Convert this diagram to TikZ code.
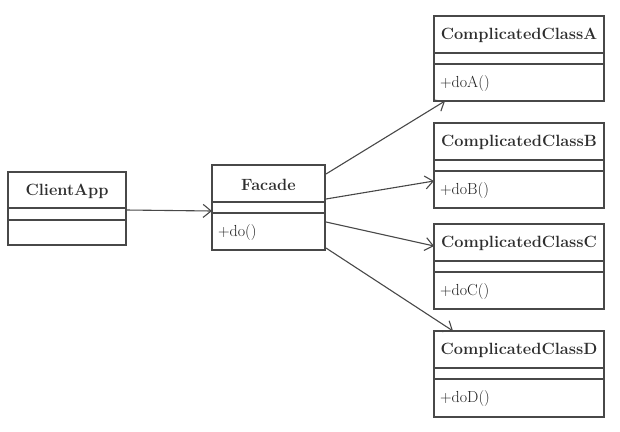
\documentclass[tikz,border=0pt]{standalone}
\usetikzlibrary{arrows.meta,calc}
\definecolor{ln}{HTML}{484848}
\definecolor{tx}{HTML}{2E2E2E}
\definecolor{mtx}{HTML}{1E1E1E}
\tikzset{
 x=1pt, y=-1pt,
 box/.style={draw=ln, line width=1.2pt, inner sep=0pt, outer sep=0pt, anchor=north west},
 sepline/.style={draw=ln, line width=1.2pt},
 title/.style={font=\bfseries\fontsize{16.3}{18}\selectfont, text=tx, inner sep=0pt},
 meth/.style={font=\fontsize{16}{18}\selectfont, text=mtx, anchor=west, inner sep=0pt},
 assoc/.style={draw=ln, line width=1.1pt, -{Straight Barb[length=8pt,width=13pt,line width=1.1pt]}}
}
\newcommand\umlbox[9]{%
 \node[box, minimum width=#4pt, minimum height=#5pt] (#1) at (#2,#3) {};
 \draw[sepline] ($(#1.north west)+(0,#6)$) -- ($(#1.north east)+(0,#6)$);
 \draw[sepline] ($(#1.north west)+(0,#6+#7)$) -- ($(#1.north east)+(0,#6+#7)$);
 \node[title] (#1-t) at ($(#1.north)+(0,#6/2+1)$) {#8};
 \node[meth] (#1-m) at ($(#1.north west)+(6,{(#5+#6+#7)/2+1})$) {#9};
}
\begin{document}
\begin{tikzpicture}
\useasboundingbox (0,0) rectangle (620,431);
\umlbox{client}{8}{172}{118}{73}{36}{12}{ClientApp}{}
\umlbox{facade}{212}{165}{113}{85}{37}{11}{Facade}{+do()}
\umlbox{A}{434}{16}{170}{85}{37}{11}{ComplicatedClassA}{+doA()}
\umlbox{B}{434}{123}{170}{85}{37}{11}{ComplicatedClassB}{+doB()}
\umlbox{C}{434}{224}{170}{85}{37}{11}{ComplicatedClassC}{+doC()}
\umlbox{D}{434}{331}{170}{86}{37}{11}{ComplicatedClassD}{+doD()}
\draw[assoc] ($(client.east)+(0,1.5)$) -- ($(facade.west)+(0,3.5)$);
\draw[assoc] ($(facade.east)+(1,-33.5)$) -- ($(A.south west)+(11,0)$);
\draw[assoc] ($(facade.east)+(1,-8.5)$) -- ($(B.west)+(0,15.5)$);
\draw[assoc] ($(facade.east)+(1,14.5)$) -- ($(C.west)+(0,-20.5)$);
\draw[assoc] ($(facade.east)+(1,40.5)$) -- ($(D.north west)+(19,0)$);
\end{tikzpicture}
\end{document}
